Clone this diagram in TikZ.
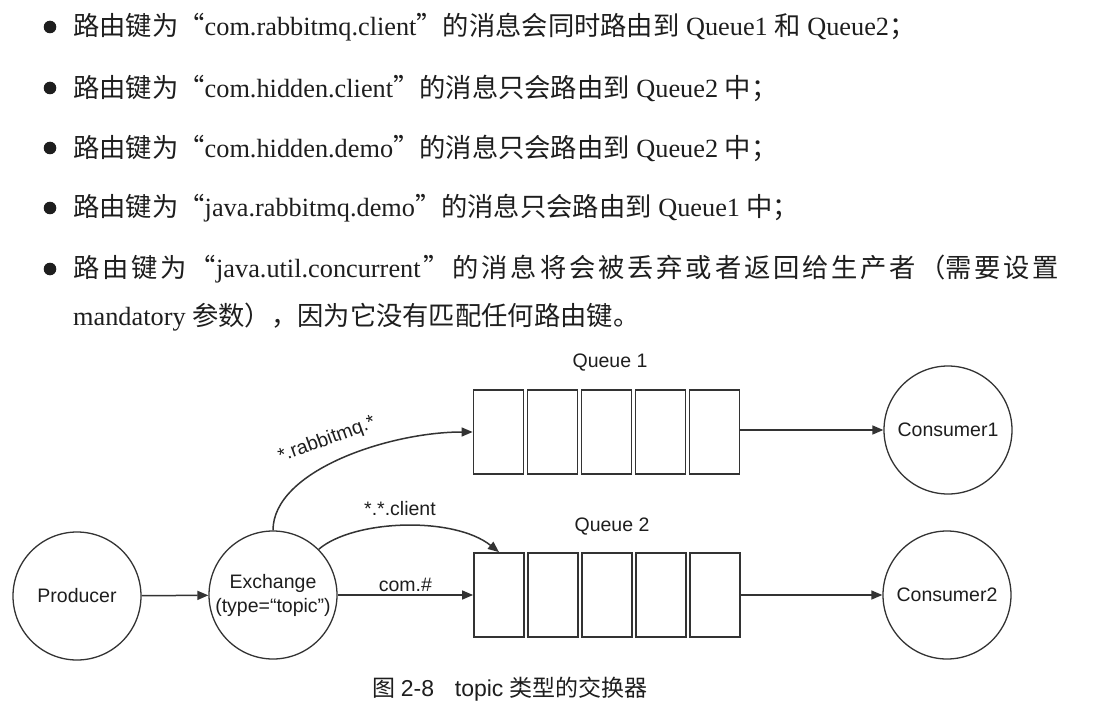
\documentclass[tikz,border=0pt]{standalone}
\usepackage{fontspec}
\setmainfont{Liberation Serif}
\newfontfamily\cjk{Noto Sans CJK SC}
\newfontfamily\arialf{Liberation Sans}
\usetikzlibrary{arrows.meta}
\definecolor{textc}{HTML}{1E1E1E}
\definecolor{linec}{HTML}{333333}
\newcommand\bodyfont{\fontsize{26.3bp}{30bp}\selectfont}
\newcommand\diagfont{\arialf\fontsize{19.5bp}{23bp}\selectfont}
\newcommand\capfont{\fontsize{23bp}{26bp}\selectfont}
\begin{document}
\begin{tikzpicture}[x=1bp,y=-1bp,
  txt/.style={anchor=west, inner sep=0pt, text=textc, font=\bodyfont},
  ell/.style={circle, draw=linec, line width=1.3bp, minimum size=128bp, inner sep=0pt, font=\diagfont, text=textc, align=center},
  qbox/.style={rectangle, draw=linec, line width=1.8bp, minimum width=50bp, minimum height=84bp, inner sep=0pt},
  arr/.style={-{Triangle[length=11bp,width=9bp]}, line width=1.5bp, draw=linec},
  lab/.style={font=\diagfont, text=textc, inner sep=1pt},
  bul/.style={fill=textc}]
\useasboundingbox (0,0) rectangle (1097,716);
\fill[white] (0,0) rectangle (1097,716);

% bullet list
\foreach \yy in {27,88,148,208,269} \fill[bul] (50,\yy) circle (6.3);
\node[txt] (l1) at (73,27) {{\cjk 路由键为“}com.rabbitmq.client{\cjk ”的消息会同时路由到} Queue1 {\cjk 和} Queue2{\cjk ；}};
\node[txt] (l2) at (73,88) {{\cjk 路由键为“}com.hidden.client{\cjk ”的消息只会路由到} Queue2 {\cjk 中；}};
\node[txt] (l3) at (73,148) {{\cjk 路由键为“}com.hidden.demo{\cjk ”的消息只会路由到} Queue2 {\cjk 中；}};
\node[txt] (l4) at (73,208) {{\cjk 路由键为“}java.rabbitmq.demo{\cjk ”的消息只会路由到} Queue1 {\cjk 中；}};
\node[txt] (l5) at (73,269) {\hbox to 986bp{{\cjk 路\hfil 由\hfil 键\hfil 为\hfil “}java.util.concurrent\hfil{\cjk ”\hfil 的\hfil 消\hfil 息\hfil 将\hfil 会\hfil 被\hfil 丢\hfil 弃\hfil 或\hfil 者\hfil 返\hfil 回\hfil 给\hfil 生\hfil 产\hfil 者\hfil （需\hfil 要\hfil 设\hfil 置}}};
\node[txt] (l6) at (73,317) {mandatory {\cjk 参数），因为它没有匹配任何路由键。}};

% diagram nodes
\node[ell] (prod) at (77,596) {Producer};
\node[ell] (exch) at (273,595) {Exchange\\[1bp](type=“topic”)};
\node[ell] (c1) at (948,430) {Consumer1};
\node[ell] (c2) at (947,595) {Consumer2};

\foreach \i/\xx in {1/498.5,2/552.5,3/606.5,4/660.5,5/714.5}{
  \node[qbox] (q1\i) at (\xx,432) {};
  \node[qbox] (q2\i) at (\xx+0.5,595) {};
}
\node[lab] (q1lab) at (610,363) {Queue 1};
\node[lab] (q2lab) at (612,527) {Queue 2};

% connectors
\draw[arr] (prod) -- (exch);
\draw[arr] (exch) -- node[lab, above=2bp] (lcom) {com.\#} (q21);
\draw[arr] (exch.north) .. controls +(0,-60) and +(-83,0) .. (q11.west);
\node[lab, rotate=20] (lrab) at (327,440) {*.rabbitmq.*};
\draw[arr] (exch.45) .. controls +(35,-30) and +(-45,-36) .. (q21.north);
\node[lab] (lcli) at (400,509) {*.*.client};
\draw[arr] (q15.east |- c1) -- (c1);
\draw[arr] (q25.east |- c2) -- (c2);

% caption
\node[anchor=west, inner sep=0pt, text=textc, font=\capfont] (cap) at (372,689) {{\cjk 图} {\arialf 2-8}\hspace{0.9em}{\arialf topic} {\cjk 类型的交换器}};
\end{tikzpicture}
\end{document}
